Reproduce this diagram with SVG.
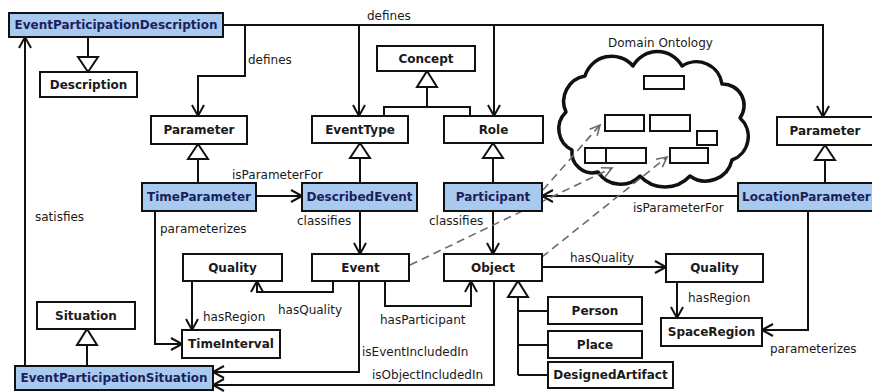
<svg xmlns="http://www.w3.org/2000/svg" width="872" height="392" viewBox="0 0 872 392">
  <style>
    .box { fill: #ffffff; stroke: #111111; stroke-width: 2; }
    .hl { fill: #a9c9ee; stroke: #111111; stroke-width: 2; }
    .name { font-family: "DejaVu Sans", "Liberation Sans", sans-serif; font-size: 12px; font-weight: bold; fill: #1a1a1a; text-anchor: middle; }
    .hlname { fill: #1a1f5c; }
    .lbl { font-family: "DejaVu Sans", "Liberation Sans", sans-serif; font-size: 12px; fill: #1a1a1a; }
    .ln { fill: none; stroke: #111111; stroke-width: 2; }
    .arr { marker-end: url(#open); }
    .gen { fill: #ffffff; stroke: #111111; stroke-width: 2; stroke-linejoin: miter; }
    .dash { fill: none; stroke: #6a6a6a; stroke-width: 1.6; stroke-dasharray: 8 5; marker-end: url(#openGray); }
    .cloud { fill: #ffffff; stroke: #111111; stroke-width: 3.5; stroke-linejoin: round; }
    .inner { fill: #ffffff; stroke: #111111; stroke-width: 2; }
  </style>
  <defs>
    <marker id="open" markerUnits="userSpaceOnUse" markerWidth="14" markerHeight="14" refX="12" refY="7" orient="auto" overflow="visible">
      <path d="M1,1 L12,7 L1,13" fill="none" stroke="#111111" stroke-width="2"/>
    </marker>
    <marker id="openGray" markerUnits="userSpaceOnUse" markerWidth="14" markerHeight="14" refX="12" refY="7" orient="auto" overflow="visible">
      <path d="M2,2 L12,7 L2,12" fill="none" stroke="#6a6a6a" stroke-width="1.6"/>
    </marker>
  </defs>

  <rect width="872" height="392" fill="#ffffff"/>

  <!-- Domain ontology cloud -->
  <g id="domain-ontology">
    <text class="lbl" x="608" y="47">Domain Ontology</text>
    <path class="cloud" d="M572,150 A23.5,23.5 0 0,1 566,112 A25.7,25.7 0 0,1 585,76 A28,28 0 0,1 633,66 A28,28 0 0,1 682,66 A26,26 0 0,1 722,84 A21.4,21.4 0 0,1 740,118 A25,25 0 0,1 732,160 A27,27 0 0,1 690,176 A34,34 0 0,1 640,176 A27,27 0 0,1 598,172 A20.5,20.5 0 0,1 572,150 Z"/>
    <rect class="inner" x="644" y="76" width="40" height="13"/>
    <rect class="inner" x="605" y="115" width="39" height="16"/>
    <rect class="inner" x="650" y="115" width="40" height="16"/>
    <rect class="inner" x="697" y="131" width="20" height="14"/>
    <rect class="inner" x="585" y="148" width="21" height="15"/>
    <rect class="inner" x="606" y="148" width="40" height="15"/>
    <rect class="inner" x="670" y="148" width="38" height="15"/>
  </g>

  <!-- Connectors -->
  <g id="connectors">
    <!-- generalisations -->
    <path class="ln" d="M88,37 V57"/>
    <path class="gen" d="M78,57 H98 L88,72 Z"/>
    <path class="ln" d="M427,87 V107 M384,116 V107 H470 V116"/>
    <path class="gen" d="M417,87 H437 L427,71 Z"/>
    <path class="ln" d="M198,159 V183"/>
    <path class="gen" d="M188,159 H208 L198,144 Z"/>
    <path class="ln" d="M360,158 V183"/>
    <path class="gen" d="M350,158 H370 L360,143 Z"/>
    <path class="ln" d="M493,158 V183"/>
    <path class="gen" d="M483,158 H503 L493,143 Z"/>
    <path class="ln" d="M825,160 V183"/>
    <path class="gen" d="M815,160 H835 L825,145 Z"/>
    <path class="ln" d="M87,345 V366"/>
    <path class="gen" d="M77,345 H97 L87,329 Z"/>
    <path class="ln" d="M518,297 V375 M518,311 H548 M518,345 H548 M518,375 H548"/>
    <path class="gen" d="M508,297 H528 L518,281 Z"/>

    <!-- defines -->
    <path class="ln arr" d="M223,25 H823 V117"/>
    <path class="ln arr" d="M245,25 V76 H198 V116"/>
    <path class="ln arr" d="M359,25 V116"/>
    <path class="ln arr" d="M494,25 V116"/>
    <text class="lbl" x="248" y="64">defines</text>
    <text class="lbl" x="367" y="20">defines</text>

    <!-- satisfies -->
    <path class="ln arr" d="M25,366 V37"/>
    <text class="lbl" x="35" y="221">satisfies</text>

    <!-- isParameterFor -->
    <path class="ln arr" d="M256,196 H302"/>
    <text class="lbl" x="232" y="179">isParameterFor</text>
    <path class="ln arr" d="M738,196 H542"/>
    <text class="lbl" x="633" y="212">isParameterFor</text>

    <!-- classifies -->
    <path class="ln arr" d="M360,211 V254"/>
    <text class="lbl" x="297" y="225">classifies</text>
    <path class="ln arr" d="M493,211 V254"/>
    <text class="lbl" x="429" y="225">classifies</text>

    <!-- parameterizes -->
    <path class="ln arr" d="M155,211 V344 H182"/>
    <text class="lbl" x="160" y="233">parameterizes</text>
    <path class="ln arr" d="M808,211 V330 H762"/>
    <text class="lbl" x="770" y="353">parameterizes</text>

    <!-- hasRegion -->
    <path class="ln arr" d="M192,281 V330"/>
    <text class="lbl" x="203" y="321">hasRegion</text>
    <path class="ln arr" d="M677,282 V318"/>
    <text class="lbl" x="688" y="302">hasRegion</text>

    <!-- hasQuality -->
    <path class="ln arr" d="M333,281 V292 H257 V281"/>
    <text class="lbl" x="278" y="314">hasQuality</text>
    <path class="ln arr" d="M542,267 H666"/>
    <text class="lbl" x="570" y="262">hasQuality</text>

    <!-- hasParticipant -->
    <path class="ln arr" d="M385,281 V306 H471 V281"/>
    <text class="lbl" x="380" y="324">hasParticipant</text>

    <!-- inclusion in the situation -->
    <path class="ln arr" d="M359,281 V372 H213"/>
    <text class="lbl" x="362" y="356">isEventIncludedIn</text>
    <path class="ln arr" d="M494,281 V385 H213"/>
    <text class="lbl" x="372" y="379">isObjectIncludedIn</text>

    <!-- grounding in the domain ontology -->
    <path class="dash" d="M410,265 L612,168"/>
    <path class="dash" d="M543,190 L600,125"/>
    <path class="dash" d="M542,257 L667,157"/>
  </g>

  <!-- Nodes -->
  <g id="event-participation-description">
    <rect class="hl" x="9" y="13" width="214" height="24"/>
    <text class="name hlname" x="116" y="29">EventParticipationDescription</text>
  </g>
  <g id="description">
    <rect class="box" x="40" y="72" width="97" height="25"/>
    <text class="name" x="88.5" y="89">Description</text>
  </g>
  <g id="concept">
    <rect class="box" x="377" y="46" width="98" height="25"/>
    <text class="name" x="426" y="63">Concept</text>
  </g>
  <g id="parameter-time">
    <rect class="box" x="151" y="116" width="96" height="28"/>
    <text class="name" x="199" y="134">Parameter</text>
  </g>
  <g id="event-type">
    <rect class="box" x="312" y="116" width="96" height="27"/>
    <text class="name" x="360" y="134">EventType</text>
  </g>
  <g id="role">
    <rect class="box" x="444" y="116" width="99" height="27"/>
    <text class="name" x="493.5" y="134">Role</text>
  </g>
  <g id="parameter-location">
    <rect class="box" x="777" y="117" width="104" height="28"/>
    <text class="name" x="825" y="135">Parameter</text>
  </g>
  <g id="time-parameter">
    <rect class="hl" x="142" y="183" width="114" height="28"/>
    <text class="name hlname" x="199" y="201">TimeParameter</text>
  </g>
  <g id="described-event">
    <rect class="hl" x="302" y="183" width="115" height="28"/>
    <text class="name hlname" x="359.5" y="201">DescribedEvent</text>
  </g>
  <g id="participant">
    <rect class="hl" x="444" y="183" width="98" height="28"/>
    <text class="name hlname" x="493" y="201">Participant</text>
  </g>
  <g id="location-parameter">
    <rect class="hl" x="738" y="183" width="144" height="28"/>
    <text class="name hlname" x="742" y="201" style="text-anchor:start">LocationParameter</text>
  </g>
  <g id="quality-time">
    <rect class="box" x="183" y="254" width="99" height="27"/>
    <text class="name" x="232.5" y="272">Quality</text>
  </g>
  <g id="event">
    <rect class="box" x="312" y="254" width="97" height="27"/>
    <text class="name" x="360.5" y="272">Event</text>
  </g>
  <g id="object">
    <rect class="box" x="444" y="254" width="98" height="27"/>
    <text class="name" x="493" y="272">Object</text>
  </g>
  <g id="quality-space">
    <rect class="box" x="666" y="254" width="97" height="28"/>
    <text class="name" x="714.5" y="272">Quality</text>
  </g>
  <g id="person">
    <rect class="box" x="548" y="297" width="94" height="27"/>
    <text class="name" x="595" y="315">Person</text>
  </g>
  <g id="place">
    <rect class="box" x="548" y="331" width="94" height="27"/>
    <text class="name" x="595" y="349">Place</text>
  </g>
  <g id="designed-artifact">
    <rect class="box" x="548" y="362" width="125" height="26"/>
    <text class="name" x="610.5" y="379">DesignedArtifact</text>
  </g>
  <g id="space-region">
    <rect class="box" x="661" y="318" width="101" height="28"/>
    <text class="name" x="711.5" y="336">SpaceRegion</text>
  </g>
  <g id="time-interval">
    <rect class="box" x="182" y="330" width="98" height="28"/>
    <text class="name" x="231" y="348">TimeInterval</text>
  </g>
  <g id="situation">
    <rect class="box" x="37" y="302" width="98" height="27"/>
    <text class="name" x="86" y="320">Situation</text>
  </g>
  <g id="event-participation-situation">
    <rect class="hl" x="15" y="366" width="198" height="24"/>
    <text class="name hlname" x="114" y="382">EventParticipationSituation</text>
  </g>
</svg>
